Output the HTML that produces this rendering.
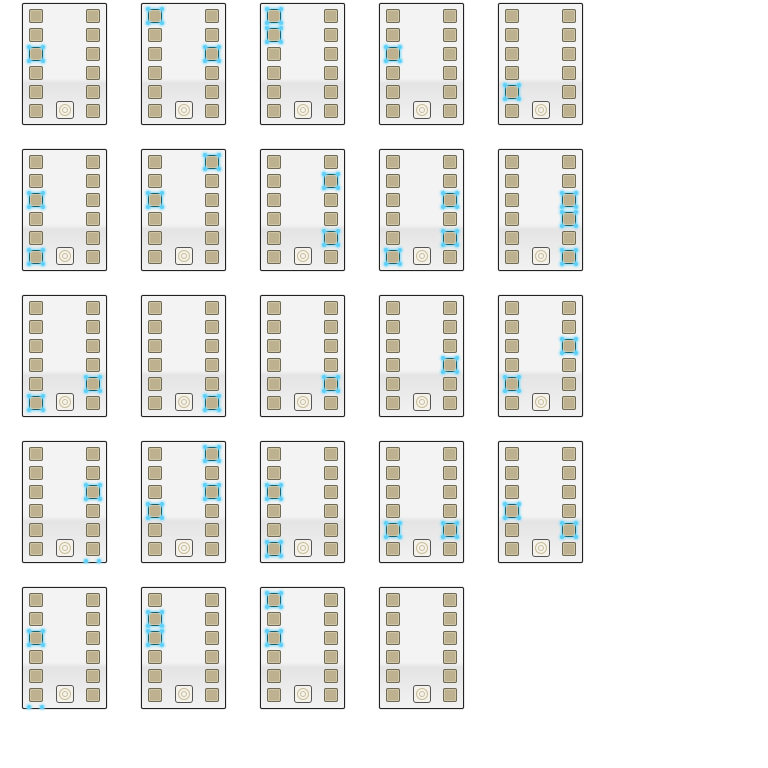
<!DOCTYPE html>
<html><head><meta charset="utf-8"><style>
body{margin:0;width:768px;height:768px;background:#fff;position:relative;overflow:hidden;font-family:"Liberation Sans",sans-serif}
.card{position:absolute;width:83px;height:120px;border:1px solid #222;border-radius:2px;background:linear-gradient(#f3f3f3 0,#f3f3f3 62%,#e4e4e4 66%,#f2f2f2 100%);box-shadow:0 0 1px #666}
.btn{position:absolute;width:12px;height:12px;background:#bdb18f;border:1px solid #6f6a55;border-radius:2px;box-shadow:inset 0 0 0 1px #cfc6a8}
.ctr{position:absolute;left:33px;top:97px;width:16px;height:16px;border:1px solid #555;border-radius:3px;background:#f4f2ea}
.ctr:before{content:"";position:absolute;left:2px;top:2px;width:10px;height:10px;border:1px solid #c9bd99;border-radius:50%}
.ctr:after{content:"";position:absolute;left:5px;top:5px;width:4px;height:4px;border:1px solid #c9bd99;border-radius:50%}
.hl{position:absolute;width:12px;height:12px;border:1px solid #1b5f6a;border-radius:2px;box-shadow:0 0 2px 1px #7fdcff}
.hl i,.hl7 i{position:absolute;width:4px;height:4px;border-radius:50%;background:#5fd0f5;box-shadow:0 0 2px 1px #8fe0ff}
.hl7{position:absolute;width:14px;height:2px;overflow:visible}
</style></head><body>
<script>
// highlighted buttons per card: [side (0 left,1 right), row index 0..6]
const highlights=[
[[0,2]],[[0,0],[1,2]],[[0,0],[0,1]],[[0,2]],[[0,4]],
[[0,2],[0,5]],[[1,0],[0,2]],[[1,1],[1,4]],[[1,2],[1,4],[0,5]],[[1,2],[1,3],[1,5]],
[[0,5],[1,4]],[[1,5]],[[1,4]],[[1,3]],[[1,2],[0,4]],
[[1,2],[1,6]],[[1,0],[1,2],[0,3]],[[0,2],[0,5]],[[0,4],[1,4]],[[0,3],[1,4]],
[[0,2],[0,6]],[[0,1],[0,2]],[[0,0],[0,2]],[]
];
highlights.forEach((h,i)=>{
  const c=document.createElement('div');
  
  
  c.className='card';
  c.style.left=(22+(i%5)*119)+'px';c.style.top=(3+Math.floor(i/5)*146)+'px';
  for(let s=0;s<2;s++)for(let r=0;r<6;r++){
    const b=document.createElement('div');
    
    
    b.className='btn';b.style.left=(s?63:6)+'px';b.style.top=(5+r*19)+'px';c.appendChild(b);
  }
  const ct=document.createElement('div');
  
  
  ct.className='ctr';c.appendChild(ct);
  h.forEach(([s,r])=>{
    const e=document.createElement('div');
    
    
    if(r<6){e.className='hl';e.style.left=(s?63:6)+'px';e.style.top=(5+r*19)+'px';
      e.innerHTML='<i style="left:-3px;top:-3px"></i><i style="left:11px;top:-3px"></i><i style="left:-3px;top:11px"></i><i style="left:11px;top:11px"></i>';}
    else{e.className='hl7';e.style.left=(s?63:6)+'px';e.style.top=(4+r*19)+'px';e.innerHTML='<i style="left:-2px;top:-1px"></i><i style="left:11px;top:-1px"></i>';}
    c.appendChild(e);
  });
  document.body.appendChild(c);
});
</script>
</body></html>
